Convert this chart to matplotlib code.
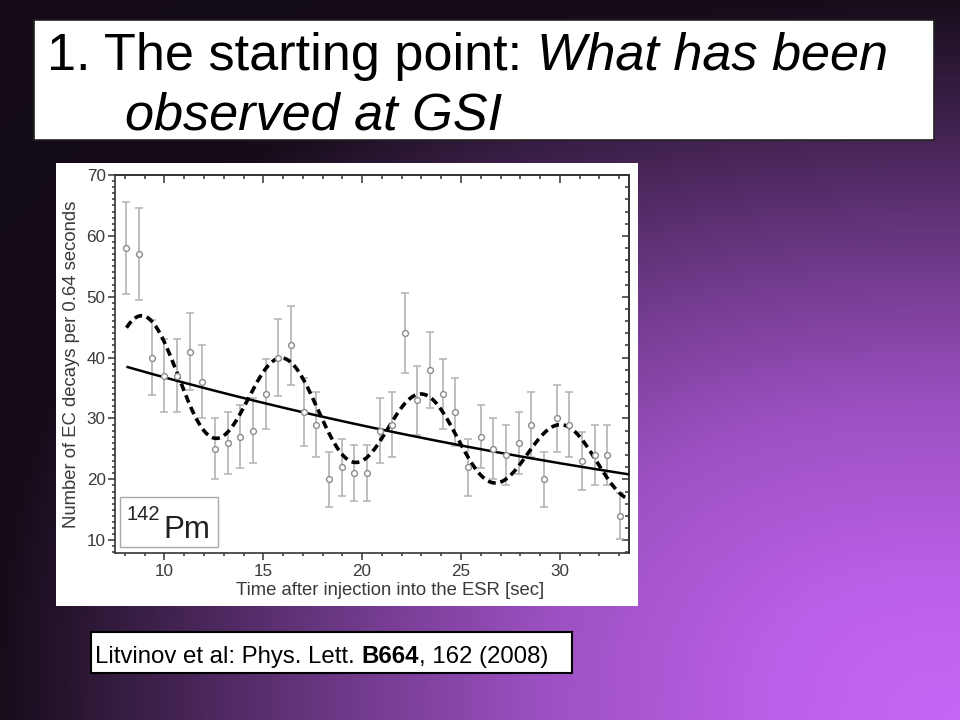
import numpy as np
import matplotlib
matplotlib.use("Agg")
import matplotlib.pyplot as plt
from matplotlib.patches import Rectangle
from matplotlib.ticker import MultipleLocator

# ---------------- data ----------------
times = [8.08, 8.72, 9.36, 10.00, 10.64, 11.28, 11.92, 12.56, 13.20, 13.84,
         14.48, 15.12, 15.76, 16.40, 17.04, 17.68, 18.32, 18.96, 19.60, 20.24,
         20.88, 21.52, 22.16, 22.80, 23.44, 24.08, 24.72, 25.36, 26.00, 26.64,
         27.28, 27.92, 28.56, 29.20, 29.84, 30.48, 31.12, 31.76, 32.40, 33.04]
counts = [58, 57, 40, 37, 37, 41, 36, 25, 26, 27,
          28, 34, 40, 42, 31, 29, 20, 22, 21, 21,
          28, 29, 44, 33, 38, 34, 31, 22, 27, 25,
          24, 26, 29, 20, 30, 29, 23, 24, 24, 14]
errors = [7.6, 7.5, 6.2, 6.0, 6.0, 6.3, 6.0, 5.0, 5.1, 5.2,
          5.3, 5.8, 6.3, 6.5, 5.6, 5.4, 4.5, 4.7, 4.6, 4.6,
          5.3, 5.4, 6.6, 5.7, 6.2, 5.8, 5.6, 4.7, 5.2, 5.0,
          4.9, 5.1, 5.4, 4.5, 5.5, 5.4, 4.8, 4.9, 4.9, 3.8]

# fitted curves (parameters)
exp_ref_value = 38.5      # pure exponential at t_ref
exp_lambda = 0.0242       # 1/s
mod_ref_value = 38.7      # modulated fit envelope at t_ref
mod_lambda = 0.0227
mod_amplitude = 0.235
mod_period = 7.06         # s
mod_peak_time = 9.0       # s
t_ref = 8.08

xticks_major = [10, 15, 20, 25, 30]
yticks_major = [10, 20, 30, 40, 50, 60, 70]

W, H = 960, 720
fig = plt.figure(figsize=(9.6, 7.2), dpi=100)

# ---------------- slide background ----------------
bg = fig.add_axes([0, 0, 1, 1], zorder=-5)
bg.set_xlim(0, W)
bg.set_ylim(H, 0)
bg.axis("off")
yy, xx = np.mgrid[0:H, 0:W] + 0.5
dx = (W - xx) / W
dy = (H - yy) / H
u = (dx ** 2.5 + dy ** 2.5) ** (1 / 2.5)
f = np.interp(u, [0, 0.2, 0.44, 0.65, 0.79, 0.9, 1.0, 2.0],
              [1, 0.93, 0.76, 0.5, 0.31, 0.16, 0.02, 0.0])
dark = np.array([0.07, 0.04, 0.08])
bright = np.array([0.78, 0.40, 0.97])
img = dark[None, None, :] * (1 - f[..., None]) + bright[None, None, :] * f[..., None]
bg.imshow(img, extent=(0, W, H, 0), aspect="auto", interpolation="bilinear")

# title box
bg.add_patch(Rectangle((34, 20), 900, 120, fc="white", ec="#222222", lw=1.2))
# chart white panel
bg.add_patch(Rectangle((56, 163), 582, 443, fc="white", ec="none"))
# citation box
bg.add_patch(Rectangle((91, 632), 481, 41, fc="white", ec="black", lw=1.5))

fig.canvas.draw()
renderer = fig.canvas.get_renderer()
FONT = "Liberation Sans"


def put_runs(x_px, y_px, runs, size):
    x = x_px
    for s, kw in runs:
        t = bg.text(x, y_px, s, fontsize=size, va="baseline", ha="left",
                    family=FONT, color="black", **kw)
        bb = t.get_window_extent(renderer)
        x = x + bb.width


put_runs(47, 70, [("1. The starting point: ", {}),
                  ("What has been", {"style": "italic"})], 37.6)
put_runs(125, 129, [("observed at GSI", {"style": "italic"})], 37.6)
put_runs(95, 663, [("Litvinov et al: Phys. Lett. ", {}),
                   ("B664", {"weight": "bold"}),
                   (", 162 (2008)", {})], 17.3)

# ---------------- chart ----------------
L, R, T, B = 115, 629, 175, 553
ax = fig.add_axes([L / W, 1 - B / H, (R - L) / W, (B - T) / H])
ax.set_xlim(7.5, 33.5)
ax.set_ylim(7.9, 70)

grey_txt = "#3a3a3a"
spine_c = "#333333"
for s in ax.spines.values():
    s.set_color(spine_c)
    s.set_linewidth(1.2)

ax.set_xticks(xticks_major)
ax.set_yticks(yticks_major)
ax.xaxis.set_minor_locator(MultipleLocator(1))
ax.yaxis.set_minor_locator(MultipleLocator(1))
ax.tick_params(which="both", direction="out", top=False, right=False,
               color=spine_c, width=1.1, labelcolor=grey_txt)
ax.tick_params(which="major", length=5.2)
ax.tick_params(which="minor", length=2.5)
ax.tick_params(axis="x", pad=2.5)
ax.tick_params(axis="y", pad=1.5)
for lab in ax.get_xticklabels() + ax.get_yticklabels():
    lab.set_family(FONT)
    lab.set_fontsize(12.3)

top = ax.secondary_xaxis("top")
top.set_xticks(xticks_major)
top.xaxis.set_minor_locator(MultipleLocator(1))
top.tick_params(which="both", direction="in", labeltop=False, color=spine_c, width=1.1)
top.tick_params(which="major", length=5.8)
top.tick_params(which="minor", length=2.8)
top.spines["top"].set_color(spine_c)
top.spines["top"].set_linewidth(1.2)

right = ax.secondary_yaxis("right")
right.set_yticks(yticks_major)
right.yaxis.set_minor_locator(MultipleLocator(2))
right.tick_params(which="both", direction="in", labelright=False, color=spine_c, width=1.1)
right.tick_params(which="major", length=5.2)
right.tick_params(which="minor", length=2.7)
right.spines["right"].set_color(spine_c)
right.spines["right"].set_linewidth(1.2)

ax.set_xlabel("Time after injection into the ESR [sec]", family=FONT,
              fontsize=13.3, color=grey_txt)
ax.set_ylabel("Number of EC decays per 0.64 seconds", family=FONT,
              fontsize=13.3, color=grey_txt)
ax.xaxis.set_label_coords((389.7 - L) / (R - L), (B - 582) / (B - T))
ax.yaxis.set_label_coords((80 - L) / (R - L), 0.5)

t_arr = np.array(times)
ax.errorbar(t_arr, counts, yerr=errors, fmt="none", ecolor="#b3b3b3",
            elinewidth=1.2, capsize=3, capthick=1.1, zorder=2)

tt = np.linspace(times[0], 33.5, 600)
exp_curve = exp_ref_value * np.exp(-exp_lambda * (tt - t_ref))
mod_curve = mod_ref_value * np.exp(-mod_lambda * (tt - t_ref)) * \
    (1 + mod_amplitude * np.cos(2 * np.pi * (tt - mod_peak_time) / mod_period))
ax.plot(tt, exp_curve, color="black", lw=1.8, zorder=3, solid_capstyle="butt")
ax.plot(tt, mod_curve, color="black", lw=2.6, ls=(0, (2.2, 1.3)), zorder=3)

ax.plot(t_arr, counts, "o", ms=4.2, mfc="white", mec="#8c8c8c", mew=1.0,
        ls="none", zorder=4)

# 142Pm inset label
ax.add_patch(Rectangle(((120.3 - L) / (R - L), (B - 546.7) / (B - T)),
                       98 / (R - L), 49.4 / (B - T), transform=ax.transAxes,
                       fc="white", ec="#a8a8a8", lw=1.0, zorder=5))
bg_to_ax = lambda px, py: ((px - L) / (R - L), (B - py) / (B - T))
ax.text(*bg_to_ax(126, 520), "142", transform=ax.transAxes, family=FONT,
        fontsize=14.5, color="#222222", va="baseline", ha="left", zorder=6)
ax.text(*bg_to_ax(163, 538.5), "Pm", transform=ax.transAxes, family=FONT,
        fontsize=22.5, color="#222222", va="baseline", ha="left", zorder=6)

fig.savefig("out.png", dpi=100)
